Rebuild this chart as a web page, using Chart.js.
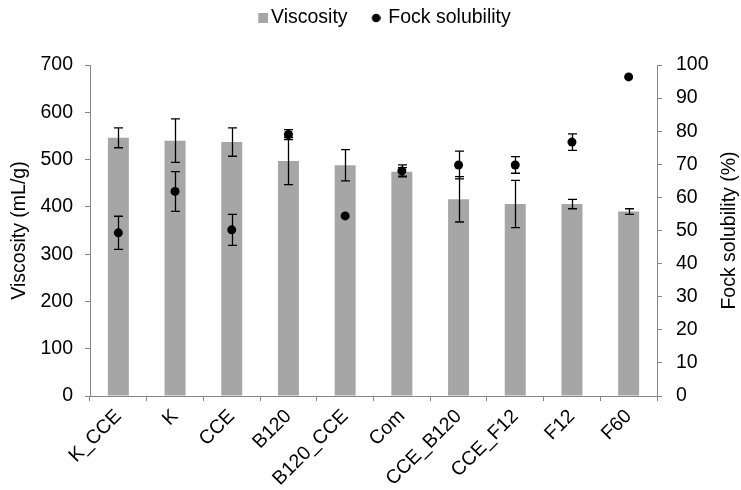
<!DOCTYPE html>
<html>
<head>
<meta charset="utf-8">
<script src="https://cdn.jsdelivr.net/npm/chart.js@4/dist/chart.umd.min.js"></script>
<style>
  html, body { margin: 0; padding: 0; background: #ffffff; }
  canvas { display: block; }
</style>
</head>
<body>
<canvas id="chart" width="741" height="490"></canvas>
<script>
// Samples on the category axis
const categories = ['K_CCE', 'K', 'CCE', 'B120', 'B120_CCE', 'Com', 'CCE_B120', 'CCE_F12', 'F12', 'F60'];

// Viscosity (mL/g), left axis, with standard deviations
const viscosity    = [546, 540, 537, 497, 488, 474, 416, 406, 406, 390];
const viscosityErr = [21, 46, 30, 50, 33, 9, 48, 50, 10, 6];

// Fock solubility (%), right axis, with standard deviations
const solubility    = [49.3, 61.8, 50.2, 79.0, 54.4, 68.0, 69.8, 69.8, 76.7, 96.4];
const solubilityErr = [5.0, 6.0, 4.7, 1.5, 0, 1.8, 4.2, 2.5, 2.5, 0];

// Axis ranges
const viscosityAxis  = { min: 0, max: 700, step: 100 };
const solubilityAxis = { min: 0, max: 100, step: 10 };

const AXIS_GREY = '#868686';
const BAR_GREY = '#A6A6A6';
const FONT = "'Liberation Sans', Arial, sans-serif";
const TEXT_SIZE = 19.5;

Chart.defaults.font.family = FONT;
Chart.defaults.font.size = TEXT_SIZE;
Chart.defaults.color = '#000000';

// Legend markers: the mark sits at the right end of a transparent strip,
// which sets how close it comes to its label
function squareMark() {
  const c = document.createElement('canvas');
  c.width = 24; c.height = 10;
  const g = c.getContext('2d');
  g.fillStyle = BAR_GREY;
  g.fillRect(14, 0, 10, 10);
  return c;
}
function dotMark() {
  const c = document.createElement('canvas');
  c.width = 14; c.height = 10;
  const g = c.getContext('2d');
  g.fillStyle = '#000000';
  g.beginPath();
  g.arc(9.5, 5, 4.3, 0, Math.PI * 2);
  g.fill();
  return c;
}
const legendMarks = [squareMark(), dotMark()];

// Vertical error bars with caps, drawn from each dataset's "errors" array
const errorBars = {
  id: 'errorBars',
  afterDatasetDraw(chart, args) {
    const ds = chart.data.datasets[args.index];
    if (!ds.errors) return;
    const meta = args.meta;
    const yScale = chart.scales[meta.yAxisID];
    const ctx = chart.ctx;
    ctx.save();
    ctx.strokeStyle = '#000000';
    ctx.lineWidth = 1.3;
    meta.data.forEach((el, i) => {
      const e = ds.errors[i];
      if (!e) return;
      const v = ds.data[i];
      const x = Math.round(el.x) + 0.5;
      const yTop = yScale.getPixelForValue(v + e);
      const yBot = yScale.getPixelForValue(v - e);
      const cap = 4.5;
      ctx.beginPath();
      ctx.moveTo(x, yTop); ctx.lineTo(x, yBot);
      ctx.moveTo(x - cap, yTop); ctx.lineTo(x + cap, yTop);
      ctx.moveTo(x - cap, yBot); ctx.lineTo(x + cap, yBot);
      ctx.stroke();
    });
    ctx.restore();
  }
};

// Fixed legend band height and a slight shift of the legend to the right
const legendBand = {
  id: 'legendBand',
  beforeLayout(chart) {
    const lg = chart.legend;
    if (lg && !lg._bandFixed) {
      const fit = lg.fit.bind(lg);
      lg.fit = function () { fit(); this.height = 77.75; };
      lg._bandFixed = true;
    }
  },
  afterLayout(chart) {
    const lg = chart.legend;
    if (lg) { lg.left += 10.5; lg.right += 10.5; }
  }
};

// Right-hand axis title, reading bottom to top
const rightTitle = {
  id: 'rightTitle',
  afterDraw(chart) {
    const area = chart.chartArea;
    const ctx = chart.ctx;
    ctx.save();
    ctx.translate(730, (area.top + area.bottom) / 2);
    ctx.rotate(-Math.PI / 2);
    ctx.font = TEXT_SIZE + 'px ' + FONT;
    ctx.fillStyle = '#000000';
    ctx.textAlign = 'center';
    ctx.textBaseline = 'middle';
    ctx.fillText('Fock solubility (%)', 0, 0);
    ctx.restore();
  }
};

new Chart(document.getElementById('chart'), {
  type: 'bar',
  data: {
    labels: categories,
    datasets: [
      {
        type: 'bar',
        label: 'Viscosity',
        data: viscosity,
        errors: viscosityErr,
        backgroundColor: BAR_GREY,
        borderWidth: 0,
        yAxisID: 'y',
        barPercentage: 0.37,
        categoryPercentage: 1.0,
        order: 2
      },
      {
        type: 'line',
        label: 'Fock solubility',
        data: solubility,
        errors: solubilityErr,
        yAxisID: 'y1',
        showLine: false,
        pointRadius: 4.5,
        pointHoverRadius: 4.5,
        pointBackgroundColor: '#000000',
        pointBorderColor: '#000000',
        pointBorderWidth: 0,
        borderColor: '#000000',
        backgroundColor: '#000000',
        order: 1
      }
    ]
  },
  options: {
    responsive: false,
    animation: false,
    layout: { padding: { top: -12.75, left: 0, right: 0, bottom: 0 } },
    plugins: {
      tooltip: { enabled: false },
      legend: {
        position: 'top',
        labels: {
          usePointStyle: true,
          boxWidth: 10,
          boxHeight: 10,
          padding: 21,
          font: { size: TEXT_SIZE },
          color: '#000000',
          generateLabels(chart) {
            const items = Chart.defaults.plugins.legend.labels.generateLabels(chart);
            items.sort((a, b) => a.datasetIndex - b.datasetIndex);
            items.forEach(it => { it.pointStyle = legendMarks[it.datasetIndex]; });
            return items;
          }
        }
      }
    },
    scales: {
      x: {
        offset: true,
        grid: {
          offset: true,
          drawOnChartArea: false,
          drawTicks: true,
          tickLength: 5,
          color: AXIS_GREY
        },
        border: { display: true, color: AXIS_GREY, width: 1 },
        ticks: {
          autoSkip: false,
          minRotation: 45,
          maxRotation: 45,
          padding: 4,
          font: { size: TEXT_SIZE },
          color: '#000000'
        },
        afterFit(scale) { scale.height = 94; }
      },
      y: {
        position: 'left',
        min: viscosityAxis.min,
        max: viscosityAxis.max,
        grid: { drawOnChartArea: false, drawTicks: true, tickLength: 5, color: AXIS_GREY },
        border: { display: true, color: AXIS_GREY, width: 1 },
        ticks: { stepSize: viscosityAxis.step, padding: 12, font: { size: TEXT_SIZE }, color: '#000000' },
        title: {
          display: true,
          text: 'Viscosity (mL/g)',
          font: { size: TEXT_SIZE },
          color: '#000000',
          padding: { top: 8, bottom: 0 }
        },
        afterFit(scale) { scale.width = 90; }
      },
      y1: {
        position: 'right',
        min: solubilityAxis.min,
        max: solubilityAxis.max,
        grid: { drawOnChartArea: false, drawTicks: true, tickLength: 5, color: AXIS_GREY },
        border: { display: true, color: AXIS_GREY, width: 1 },
        ticks: { stepSize: solubilityAxis.step, padding: 14, font: { size: TEXT_SIZE }, color: '#000000' },
        afterFit(scale) { scale.width = 84; }
      }
    }
  },
  plugins: [errorBars, legendBand, rightTitle]
});
</script>
</body>
</html>
